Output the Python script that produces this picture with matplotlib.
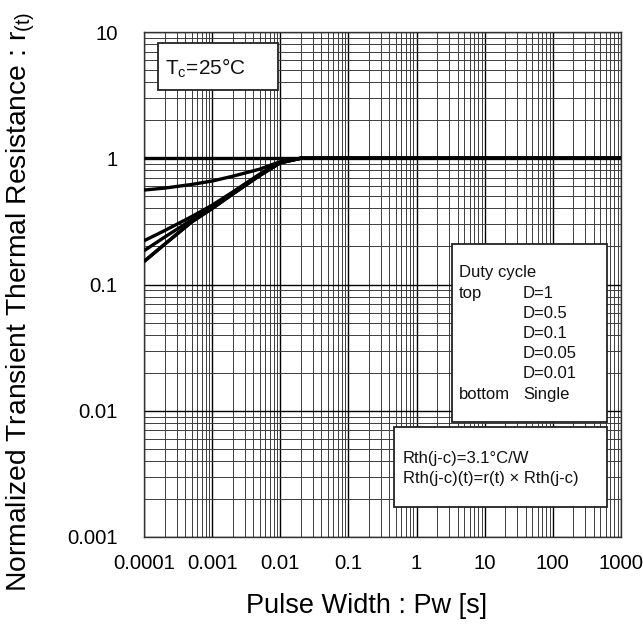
import matplotlib
matplotlib.use("Agg")
import matplotlib.pyplot as plt
from matplotlib.patches import Rectangle

plt.rcParams['font.family'] = ['Liberation Sans', 'DejaVu Sans']
plt.rcParams['mathtext.fontset'] = 'custom'
plt.rcParams['mathtext.rm'] = 'Liberation Sans'

# pulse width [s]
pw = [1e-4, 2e-4, 5e-4, 1e-3, 2e-3, 5e-3, 1e-2, 2e-2, 1e3]

# normalized transient thermal resistance r(t)
r_d1 = [1, 1, 1, 1, 1, 1, 1, 1, 1]
r_d05 = [0.56, 0.58, 0.62, 0.66, 0.72, 0.82, 0.94, 1.0, 1.0]
r_d01 = [0.222, 0.267, 0.345, 0.425, 0.54, 0.75, 0.93, 1.0, 1.0]
r_d005 = [0.185, 0.237, 0.325, 0.41, 0.53, 0.74, 0.92, 1.0, 1.0]
r_d001 = [0.152, 0.208, 0.313, 0.40, 0.52, 0.73, 0.92, 1.0, 1.0]
r_single = [0.152, 0.208, 0.313, 0.40, 0.52, 0.73, 0.92, 1.0, 1.0]

xticks = [1e-4, 1e-3, 1e-2, 1e-1, 1, 10, 100, 1000]
xticklabels = ['0.0001', '0.001', '0.01', '0.1', '1', '10', '100', '1000']
yticks = [1e-3, 1e-2, 1e-1, 1, 10]
yticklabels = ['0.001', '0.01', '0.1', '1', '10']

fig = plt.figure(figsize=(6.43, 6.28), dpi=100)
# axes box in pixels: x 144..621, y 32..537
ax = fig.add_axes([144/643, 1-537/628, 477/643, 505/628])

for r in [r_d1, r_d05, r_d01, r_d005, r_d001, r_single]:
    ax.plot(pw, r, color='black', lw=2.4, solid_capstyle='butt', zorder=3)

ax.set_xscale('log')
ax.set_yscale('log')
ax.set_xlim(1e-4, 1e3)
ax.set_ylim(1e-3, 10)
ax.set_xticks(xticks)
ax.set_xticklabels(xticklabels)
ax.set_yticks(yticks)
ax.set_yticklabels(yticklabels)
ax.tick_params(which='both', length=0, labelsize=14.7)
ax.tick_params(axis='x', pad=12)
ax.tick_params(axis='y', pad=19)
ax.grid(which='major', color='black', lw=1.0)
ax.grid(which='minor', color='#3c3c3c', lw=0.7)
for s in ax.spines.values():
    s.set_color('#333333')
    s.set_linewidth(1.0)

# axis titles placed in figure pixels
fig.text(367/643, 1-606/628, 'Pulse Width : Pw [s]', fontsize=19.5,
         ha='center', va='center')
fig.text(21/643, 1-302/628,
         'Normalized Transient Thermal Resistance : r$_{\\mathrm{(t)}}$',
         fontsize=20.3, rotation=90, ha='center', va='center')


def px_box(x0, y0, x1, y1):
    # pixel corners -> axes fraction rectangle
    ax.add_patch(Rectangle(((x0-144)/477, (537-y1)/505), (x1-x0)/477, (y1-y0)/505,
                           transform=ax.transAxes, facecolor='white',
                           edgecolor='#222222', lw=1.3, zorder=5))


def px_text(x, y, s, size):
    ax.text((x-144)/477, (537-y)/505, s, transform=ax.transAxes, fontsize=size,
            va='center', ha='left', zorder=6, color='#111111')


px_box(158, 43, 278, 90)
px_text(165, 68, 'T$_{\\mathrm{c}}$=25°C', 15)

px_box(452, 244, 607, 422)
rows = [('Duty cycle', ''), ('top', 'D=1'), ('', 'D=0.5'), ('', 'D=0.1'),
        ('', 'D=0.05'), ('', 'D=0.01'), ('bottom', 'Single')]
for i, (a, b) in enumerate(rows):
    y = 273 + i * 20.2
    if a:
        px_text(459, y, a, 12)
    if b:
        px_text(523, y, b, 12)

px_box(394, 427, 607, 507)
px_text(403, 458, 'Rth(j-c)=3.1°C/W', 12)
px_text(403, 478, 'Rth(j-c)(t)=r(t) × Rth(j-c)', 12)

fig.savefig('out.png', dpi=100)
